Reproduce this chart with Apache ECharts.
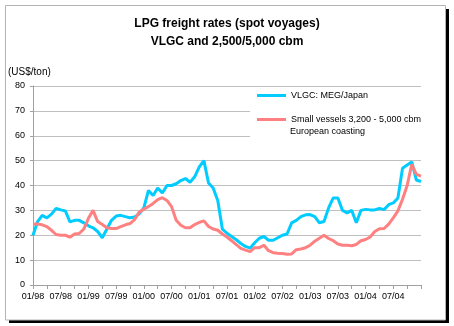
<!DOCTYPE html>
<html>
<head>
<meta charset="utf-8">
<script src="https://cdn.jsdelivr.net/npm/echarts@6/dist/echarts.min.js"></script>
<style>
html,body{margin:0;padding:0;background:#fff;}
#chart{width:454px;height:326px;}
</style>
</head>
<body>
<div id="chart"></div>
<script>
const titleLines = ['LPG freight rates (spot voyages)', 'VLGC and 2,500/5,000 cbm'];
const unitLabel = '(US$/ton)';
const seriesNames = ['VLGC: MEG/Japan', 'Small vessels 3,200 - 5,000 cbm'];
const legendSubLine = 'European coasting';
const yTicks = [0, 10, 20, 30, 40, 50, 60, 70, 80];

const categories = [
'01/98','02/98','03/98','04/98','05/98','06/98','07/98','08/98','09/98','10/98','11/98','12/98',
'01/99','02/99','03/99','04/99','05/99','06/99','07/99','08/99','09/99','10/99','11/99','12/99',
'01/00','02/00','03/00','04/00','05/00','06/00','07/00','08/00','09/00','10/00','11/00','12/00',
'01/01','02/01','03/01','04/01','05/01','06/01','07/01','08/01','09/01','10/01','11/01','12/01',
'01/02','02/02','03/02','04/02','05/02','06/02','07/02','08/02','09/02','10/02','11/02','12/02',
'01/03','02/03','03/03','04/03','05/03','06/03','07/03','08/03','09/03','10/03','11/03','12/03',
'01/04','02/04','03/04','04/04','05/04','06/04','07/04','08/04','09/04','10/04','11/04','12/04',
'01/05'
];

const vlgc = [
20, 25.5, 28, 27, 28.5, 30.8, 30.2, 29.8, 25.4, 26, 26, 25,
23.8, 23, 21.5, 19, 22.5, 26, 27.7, 28, 27.5, 27, 27.3, 28.6,
31, 38, 36, 39, 37, 40, 40, 40.7, 42, 42.8, 41.3, 43.5,
47.5, 50, 41, 39, 34, 22.5, 20.8, 19.5, 18.2, 16.7, 15.5, 14.8,
17, 18.8, 19.5, 18, 18, 19, 20, 20.5, 25, 26, 27.5, 28.2,
28.3, 27.5, 25, 25.5, 31, 35, 35, 30, 29, 30, 25, 30,
30.4, 30.2, 30.2, 30.8, 30.3, 32.3, 33, 35, 46.9, 48.2, 49.5, 42.2,
41.6
];

const smallVessels = [
24.5, 24.5, 24.2, 23.5, 22, 20.3, 20, 20, 19.2, 20.5, 20.7, 22.5,
26.8, 30, 25.5, 24.3, 23, 22.7, 22.7, 23.5, 24.2, 24.7, 26.3, 29.3,
30.5, 31.5, 32.8, 34.3, 35.1, 34, 31.5, 26, 24, 23, 23, 24.3,
25.2, 25.8, 23.5, 22.5, 22, 20.5, 19.3, 17.8, 16.2, 14.7, 14, 13.4,
15, 15, 16, 13.8, 13, 12.8, 12.7, 12.4, 12.5, 14.2, 14.5, 15,
16, 17.6, 18.8, 20, 18.7, 17.8, 16.5, 16, 16, 15.8, 16.3, 17.8,
18.3, 19.3, 21.5, 22.6, 22.7, 24.5, 27, 29.8, 34.5, 40, 48.5, 44.5,
43.8
];

const FONT = '"Liberation Sans", Arial, sans-serif';
const chart = echarts.init(document.getElementById('chart'), null, {renderer: 'canvas'});

chart.setOption({
  animation: false,
  backgroundColor: 'transparent',
  graphic: [
    {type: 'rect', z: -10, shape: {x: 9, y: 9, width: 440, height: 314}, style: {fill: '#000'}},
    {type: 'rect', z: -9, shape: {x: 5.5, y: 5.5, width: 440, height: 314.5}, style: {fill: '#fff', stroke: '#b4b4b4', lineWidth: 1}},
    {type: 'rect', z: 3, shape: {x: 250, y: 100, width: 178, height: 50}, style: {fill: '#fff'}},
    {type: 'text', z: 11, left: 290, top: 127, style: {text: legendSubLine, font: '9px "Liberation Sans", Arial, sans-serif', fill: '#000'}}
  ],
  title: [
    {
      text: titleLines.join('\n'),
      left: 'center',
      top: 15,
      padding: 0,
      textStyle: {fontFamily: FONT, fontSize: 12, fontWeight: 'bold', color: '#000', lineHeight: 18}
    },
    {
      text: unitLabel,
      left: 8,
      top: 67,
      padding: 0,
      textStyle: {fontFamily: FONT, fontSize: 10, fontWeight: 'normal', color: '#000'}
    }
  ],
  legend: [
    {
      data: [seriesNames[0]],
      left: 257,
      top: 91,
      padding: 0,
      icon: 'rect',
      itemWidth: 29,
      itemHeight: 3,
      z: 10,
      textStyle: {fontFamily: FONT, fontSize: 9, color: '#000'}
    },
    {
      data: [seriesNames[1]],
      left: 257,
      top: 115,
      padding: 0,
      icon: 'rect',
      itemWidth: 29,
      itemHeight: 3,
      z: 10,
      textStyle: {fontFamily: FONT, fontSize: 9, color: '#000'}
    }
  ],
  grid: {left: 33, right: 33, top: 86, bottom: 41, containLabel: false},
  xAxis: {
    type: 'category',
    data: categories,
    boundaryGap: false,
    axisLine: {lineStyle: {color: '#a0a0a0', width: 1}},
    axisTick: {length: 4, lineStyle: {color: '#a0a0a0'}, interval: (i) => i % 3 === 0},
    axisLabel: {
      interval: (i) => i % 6 === 0 && i < categories.length - 1,
      fontFamily: FONT, fontSize: 9, color: '#000', margin: 7
    },
    splitLine: {show: false}
  },
  yAxis: {
    type: 'value',
    min: yTicks[0],
    max: yTicks[yTicks.length - 1],
    interval: 10,
    axisLine: {show: true, lineStyle: {color: '#a0a0a0', width: 1}},
    axisTick: {show: true, length: 3, lineStyle: {color: '#a0a0a0'}},
    axisLabel: {fontFamily: FONT, fontSize: 9, color: '#000', margin: 8},
    splitLine: {lineStyle: {color: '#c0c0c0', width: 1}}
  },
  series: [
    {
      name: seriesNames[0],
      type: 'line',
      data: vlgc,
      symbol: 'none',
      smooth: false,
      z: 2,
      lineStyle: {color: '#00ccff', width: 3},
      itemStyle: {color: '#00ccff'}
    },
    {
      name: seriesNames[1],
      type: 'line',
      data: smallVessels,
      symbol: 'none',
      smooth: false,
      z: 2,
      lineStyle: {color: '#ff8080', width: 3},
      itemStyle: {color: '#ff8080'}
    }
  ]
});
</script>
</body>
</html>
